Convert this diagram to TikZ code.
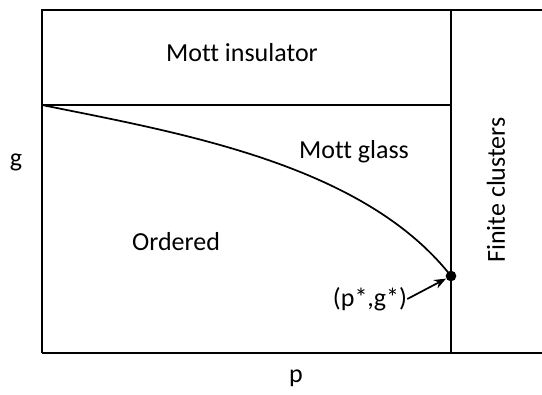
\documentclass[tikz,border=0pt]{standalone}
\usepackage{fontspec}
\setmainfont[Ligatures=NoCommon]{Carlito}
\usetikzlibrary{arrows.meta}
\begin{document}
\begin{tikzpicture}[x=0.75pt,y=-0.75pt,
  frame/.style={line width=1.6pt},
  lbl/.style={font=\fontsize{19.5}{23}\selectfont, inner sep=0pt},
  curve/.style={line width=1.3pt},
  pointer/.style={line width=1.3pt,-{Stealth[length=9pt,width=7pt]}}]
\useasboundingbox (0,0) rectangle (542,394);
% frame coordinates
\coordinate (tl) at (42,10);
\coordinate (tr) at (542,10);
\coordinate (ml) at (42,105);
\coordinate (mr) at (451,105);
\coordinate (vt) at (451,10);
\coordinate (bl) at (42,353);
\coordinate (br) at (542,353);
\coordinate (vb) at (451,353);
\draw[frame] (tr) -- (tl) -- (bl);
\draw[frame] (ml) -- (mr);
\draw[frame] (vt) -- (vb);
\draw[line width=2.2pt] (bl) -- (br);
% critical point
\node[circle,fill=black,inner sep=0pt,minimum size=8pt] (crit) at (451,276) {};
% boundary curve
\draw[curve] (ml) .. controls (180,133) and (363,164) .. (crit.center);
% labels
\node[lbl] (mi) at (242,53) {Mott insulator};
\node[lbl] (mg) at (354,152) {Mott glass};
\node[lbl] (ord) at (176,242) {Ordered};
\node[lbl] (pg) at (370,299) {(p*,g*)};
\node[lbl,rotate=90] (fc) at (496,190) {Finite clusters};
\node[lbl] (g) at (16,162) {g};
\node[lbl] (p) at (296,378) {p};
\draw[pointer] (pg.east) -- (crit);
\end{tikzpicture}
\end{document}
